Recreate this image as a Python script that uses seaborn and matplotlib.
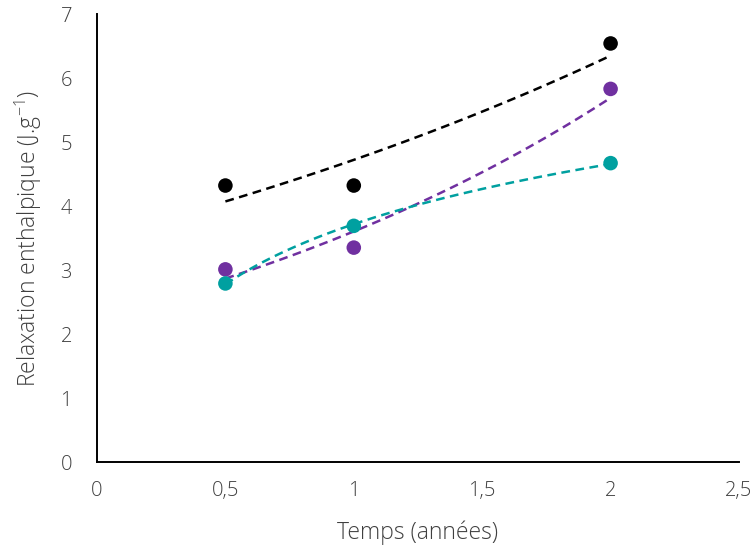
import numpy as np
import pandas as pd
import matplotlib
matplotlib.use("Agg")
import matplotlib.pyplot as plt
import seaborn as sns

x_years = [0.5, 1, 2]
black_vals = [4.32, 4.32, 6.54]
purple_vals = [3.01, 3.35, 5.83]
teal_vals = [2.79, 3.69, 4.67]
x_ticks = [0, 0.5, 1, 1.5, 2, 2.5]
x_tick_labels = ["0", "0,5", "1", "1,5", "2", "2,5"]
y_ticks = [0, 1, 2, 3, 4, 5, 6, 7]

sns.set_style("white")
plt.rcParams['font.family'] = ['Open Sans', 'DejaVu Sans']
plt.rcParams['font.weight'] = 'light'
plt.rcParams['mathtext.default'] = 'regular'

fig = plt.figure(figsize=(7.56, 5.5), dpi=100)
ax = fig.add_axes([0.1283, 0.16, 0.9775 - 0.1283, 0.9745 - 0.16])

series = [("black", black_vals, "#000000", "exp"),
          ("purple", purple_vals, "#7030A0", "exp"),
          ("teal", teal_vals, "#00A0A0", "log")]

xs = np.linspace(min(x_years), max(x_years), 100)
x_arr = np.array(x_years, dtype=float)
for name, vals, col, kind in series:
    y = np.array(vals, dtype=float)
    if kind == "exp":
        b, a = np.polyfit(x_arr, np.log(y), 1)
        yf = np.exp(a + b * xs)
    else:
        b, a = np.polyfit(np.log(x_arr), y, 1)
        yf = a + b * np.log(xs)
    sns.lineplot(x=xs, y=yf, ax=ax, color=col, linestyle=(0, (3.5, 2.2)), linewidth=1.8)

for name, vals, col, kind in series:
    df = pd.DataFrame({"x": x_years, "y": vals})
    sns.scatterplot(data=df, x="x", y="y", ax=ax, color=col, s=110, edgecolor="none", zorder=3)

ax.set_xlim(0, 2.5)
ax.set_ylim(0, 7)
ax.set_xticks(x_ticks)
ax.set_xticklabels(x_tick_labels)
ax.set_yticks(y_ticks)
ax.tick_params(axis='both', labelsize=14.5, colors='#404040', length=0, pad=14)
ax.tick_params(axis='y', pad=18)
for lbl in ax.get_xticklabels() + ax.get_yticklabels():
    lbl.set_fontweight('light')
for s in ["top", "right"]:
    ax.spines[s].set_visible(False)
for s in ["left", "bottom"]:
    ax.spines[s].set_color("black")
    ax.spines[s].set_linewidth(1.4)
ax.set_xlabel("Temps (années)", fontsize=16.5, color='#404040', labelpad=14, fontweight='light')
ax.set_ylabel("Relaxation enthalpique (J.g$^{-1}$)", fontsize=16.5, color='#404040', labelpad=12, fontweight='light')

fig.savefig("out.png", dpi=100)
